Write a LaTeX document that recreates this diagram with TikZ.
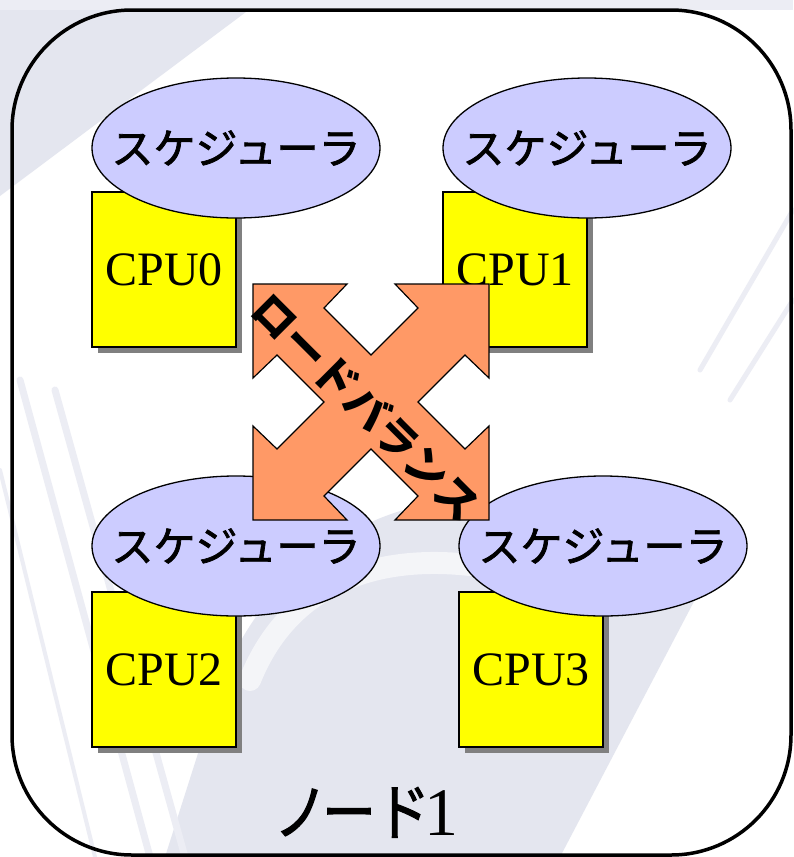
\documentclass[tikz,border=0pt]{standalone}
\usepackage{fontspec}
\setmainfont{Liberation Serif}
\newfontfamily\jp{Noto Sans CJK JP}
\newfontfamily\jpmid{Noto Sans CJK JP}[FakeBold=1.8]
\usetikzlibrary{shapes.geometric,shadows}

\definecolor{schedfill}{HTML}{CCCCFF}
\definecolor{lbfill}{HTML}{FF9966}
\definecolor{cpufill}{RGB}{255,255,0}
\definecolor{wm}{RGB}{228,230,239}
\definecolor{wmlight}{RGB}{236,237,244}

\begin{document}
\begin{tikzpicture}[x=1pt,y=-1pt,
  cpubox/.style={draw=black, line width=1.4pt, fill=cpufill,
    minimum width=144pt, minimum height=155pt, inner sep=0pt,
    drop shadow={shadow xshift=6pt, shadow yshift=-6pt, fill=black!50, opacity=1},
    font=\fontsize{48}{56}\selectfont},
  sched/.style={ellipse, draw=black, line width=1.3pt, fill=schedfill,
    minimum width=288pt, minimum height=140pt, inner sep=0pt},
  schedtext/.style={inner sep=0pt, font=\jpmid\fontsize{42}{50}\selectfont},
  lbarrow/.style={draw=black, line width=1.2pt, fill=lbfill, line join=miter},
  streak/.style={wmlight, line width=7pt, line cap=round},
]
\useasboundingbox (0,0) rectangle (793,857);
\fill[white] (0,0) rectangle (793,857);

% faint watermark behind the frame
\fill[wm] (0,0) -- (262,0) -- (0,196) -- cycle;
\fill[wmlight] (0,0) rectangle (793,10);
\fill[wm] (165,857) -- (215,700) .. controls (260,560) and (380,500) .. (470,500)
  -- (700,590) -- (560,857) -- cycle;
\draw[white, line width=22pt, opacity=0.6, line cap=round]
  (250,680) .. controls (290,580) and (380,555) .. (470,565);
\draw[streak] (20,380) -- (150,857);
\draw[streak] (55,390) -- (185,857);
\draw[streak, line width=4pt] (0,470) -- (95,857);
\draw[streak, line width=5pt] (700,370) -- (793,210);
\draw[streak, line width=5pt] (730,400) -- (793,300);

% node frame
\node[draw=black, line width=3.5pt, rounded corners=120pt, inner sep=0pt,
  minimum width=779pt, minimum height=845pt] (frame) at (401.5,432.5) {};
\node[anchor=base, inner sep=0pt] (nodelabel) at (366,835)
  {{\jpmid\fontsize{54}{60}\selectfont\scalebox{1}[1.15]{ノ\kern-6ptード}}\kern-6pt{\fontsize{68}{72}\selectfont 1}};

% CPUs
\node[cpubox] (cpu0) at (164,269.5) {CPU0};
\node[cpubox] (cpu1) at (515,269.5) {CPU1};
\node[cpubox] (cpu2) at (164,669.5) {CPU2};
\node[cpubox] (cpu3) at (531,669.5) {CPU3};

% schedulers
\node[sched] (s0) at (236,148) {};
\node[sched] (s1) at (587,148) {};
\node[sched] (s2) at (236,546) {};
\node[sched] (s3) at (603,546) {};
\foreach \s in {s0,s1,s2,s3}
  \node[schedtext] at (\s) {スケジューラ};

% load-balancing cross arrow
\begin{scope}[shift={(371,402)}]
\draw[lbarrow] (-118,-118) -- (-24,-118) -- (-47,-94) -- (0,-47) -- (47,-94) -- (24,-118)
  -- (118,-118) -- (118,-24) -- (94,-47) -- (47,0) -- (94,47) -- (118,24)
  -- (118,118) -- (24,118) -- (47,94) -- (0,47) -- (-47,94) -- (-24,118)
  -- (-118,118) -- (-118,24) -- (-94,47) -- (-47,0) -- (-94,-47) -- (-118,-24) -- cycle;
\end{scope}
\node[rotate=-45, inner sep=0pt, font=\jp\bfseries\fontsize{43}{48}\selectfont] (lb) at (367,407) {ロードバランス};
\end{tikzpicture}
\end{document}
